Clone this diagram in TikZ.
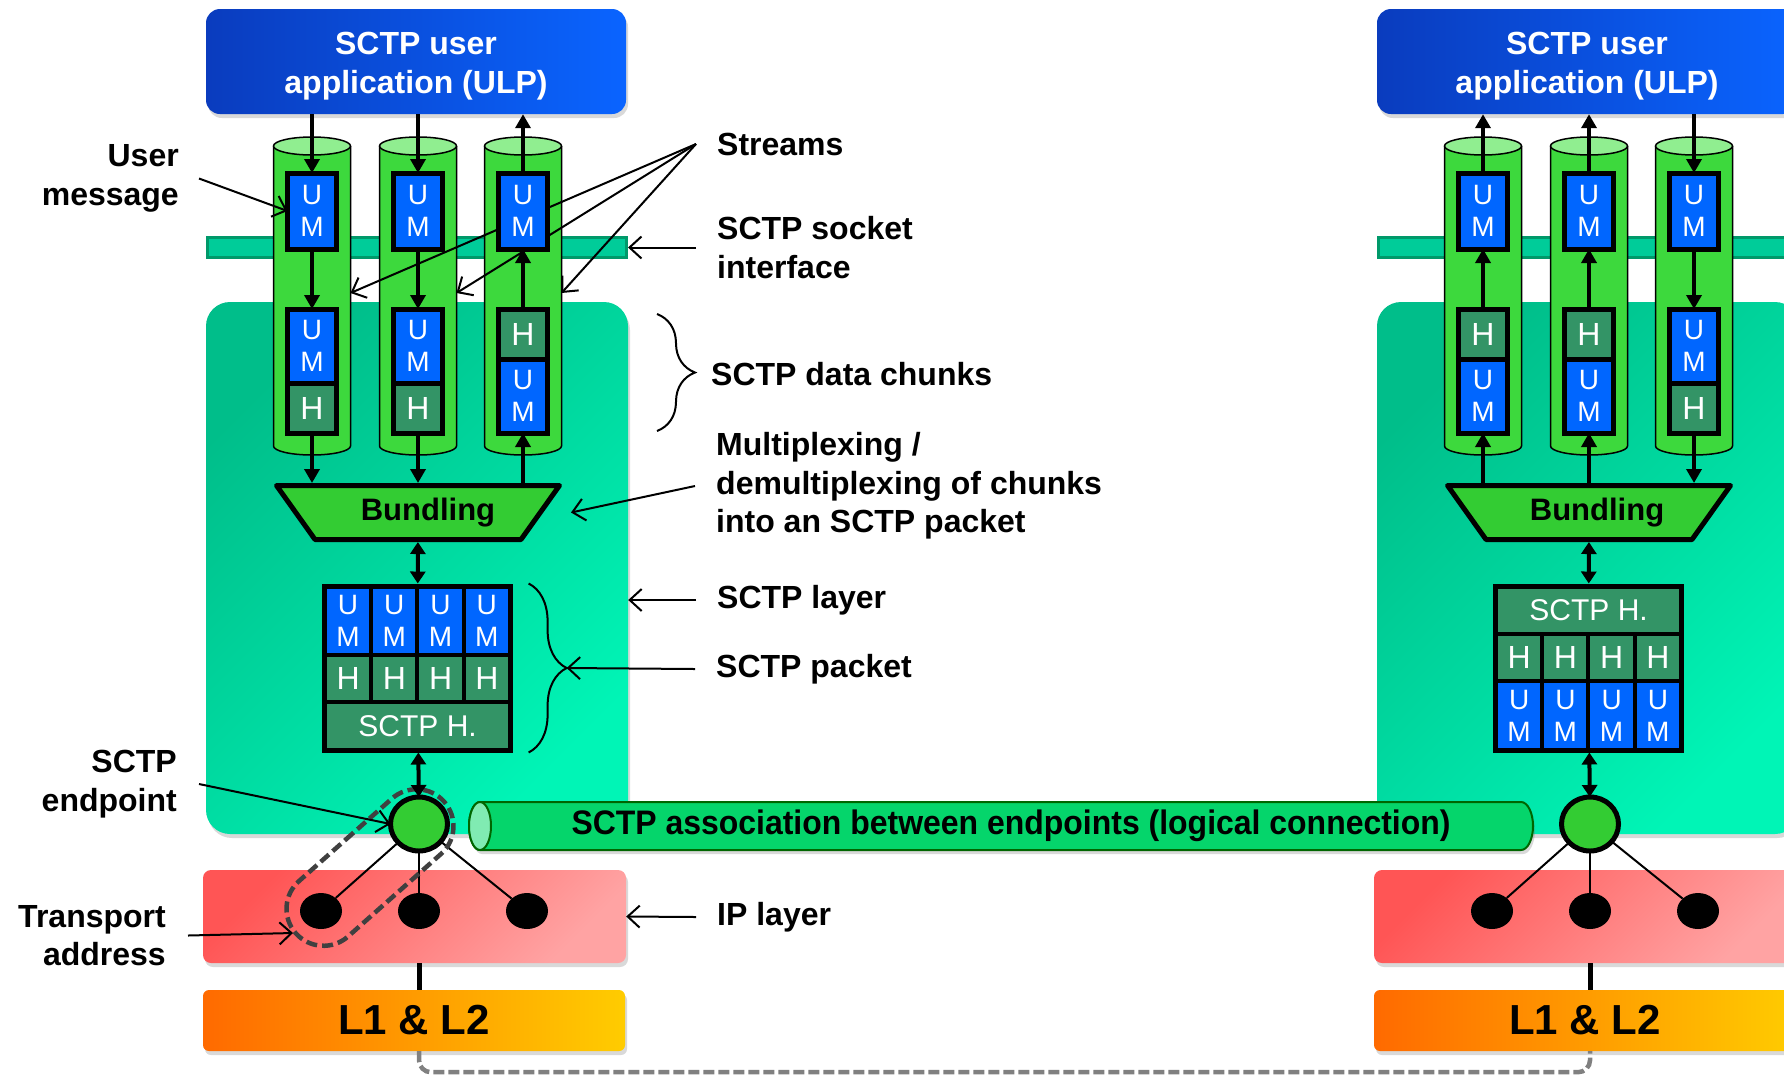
\documentclass[tikz,border=0pt]{standalone}
\usepackage{fontspec}
\setmainfont{Liberation Sans}
\newfontfamily\narrowfont[FakeStretch=0.94]{Liberation Sans}
\usepackage{tikz}
\usetikzlibrary{arrows.meta,positioning,shapes,fit,calc,shadows,decorations.pathreplacing}

\definecolor{ulpblue}{HTML}{0A64FF}
\definecolor{ulpdark}{HTML}{0A3CBE}
\definecolor{umblue}{HTML}{0066FF}
\definecolor{hgreen}{HTML}{339466}
\definecolor{cylgreen}{HTML}{3DD93D}
\definecolor{cyltop}{HTML}{90EE90}
\definecolor{bundgreen}{HTML}{33CC33}
\definecolor{layerdark}{HTML}{00BE8A}
\definecolor{layerlight}{HTML}{00F5B6}
\definecolor{sockfill}{HTML}{00CC99}
\definecolor{sockline}{HTML}{00996A}
\definecolor{ipdark}{HTML}{FF5555}
\definecolor{iplight}{HTML}{FFA3A3}
\definecolor{llorange}{HTML}{FF6A00}
\definecolor{llyellow}{HTML}{FFCC00}
\definecolor{pipegreen}{HTML}{05D56B}
\definecolor{pipecap}{HTML}{80EBB2}

\newcommand{\ulptext}{\raisebox{-5pt}[\height][\depth]{\begin{tabular}{@{}c@{}}SCTP user\\application (ULP)\end{tabular}}}

\tikzset{
  shadowed/.style={drop shadow={shadow xshift=2pt,shadow yshift=-4pt,opacity=0.25,fill=black!60}},
  ulp/.style={shadowed,rounded corners=14pt,left color=ulpdark,right color=ulpblue,text=white,
    font=\bfseries\fontsize{32}{38.5}\selectfont,minimum width=420pt,minimum height=105pt},
  sockbar/.style={fill=sockfill,draw=sockline,line width=3pt,minimum width=419pt,minimum height=20pt},
  layerbox/.style={shadowed,rounded corners=24pt,top color=layerdark,bottom color=layerlight,shading angle=45,
    minimum width=422pt,minimum height=532pt},
  ipbox/.style={shadowed,rounded corners=8pt,top color=ipdark,bottom color=iplight,shading angle=45,
    minimum width=423pt,minimum height=93pt},
  llbox/.style={shadowed,rounded corners=6pt,left color=llorange,right color=llyellow,
    minimum width=422pt,minimum height=61pt,font=\bfseries\fontsize{42}{48}\selectfont},
  um/.style={draw=black,line width=5pt,fill=umblue,text=white,font=\fontsize{28}{32}\selectfont,
    align=center,inner sep=0pt,outer sep=0pt,minimum width=49pt},
  topum/.style={um,minimum height=76pt},
  cum/.style={um,minimum height=74pt},
  ch/.style={um,fill=hgreen,minimum height=50pt,font=\fontsize{32}{36}\selectfont},
  pum/.style={um,line width=4pt,minimum width=46.25pt,minimum height=69pt},
  ph/.style={pum,fill=hgreen,minimum height=47pt,font=\fontsize{32}{36}\selectfont},
  phdr/.style={ph,minimum width=185pt,minimum height=48pt,font=\fontsize{30}{34}\selectfont},
  bundshape/.style={fill=bundgreen,draw=black,line width=5pt,line join=round},
  bund/.style={minimum width=283pt,minimum height=54pt,inner sep=0pt,outer sep=2.5pt,
    font=\bfseries\fontsize{31}{38}\selectfont},
  ep/.style={ellipse,fill=bundgreen,draw=black,line width=5pt,minimum width=57pt,minimum height=54pt,
    inner sep=0pt,outer sep=0pt},
  dot/.style={ellipse,fill=black,minimum width=42pt,minimum height=36pt,inner sep=0pt},
  grp/.style={rounded rectangle,draw=black!75,dash pattern=on 11pt off 5pt,line width=4.5pt,
    minimum width=205pt,minimum height=74pt,rotate=41.6},
  lbl/.style={font=\bfseries\fontsize{32}{38.5}\selectfont,align=left,anchor=west,inner sep=0pt},
  lblr/.style={lbl,align=right,anchor=east},
  ptr/.style={line width=2pt,-{Straight Barb[length=12pt,width=22pt]}},
  flow/.style={line width=3.5pt,-{Triangle[length=14pt,width=15pt]}},
  dbl/.style={line width=4pt,{Triangle[length=12pt,width=15pt]}-{Triangle[length=12pt,width=15pt]}},
  wire/.style={line width=2pt},
  curly/.style={line width=2pt,decorate,decoration={brace,amplitude=38pt}},
  botdash/.style={draw=black!50,line width=4.5pt,dash pattern=on 11pt off 4pt,rounded corners=12pt}
}

\begin{document}
\begin{tikzpicture}[x=1pt,y=1pt]
  \useasboundingbox (0,0) rectangle (1784,-1077);

  % layers of both hosts
  \node[ulp] (ulpL) at (416,-61.5) {\ulptext};
  \node[ulp] (ulpR) at (1587,-61.5) {\ulptext};
  \node[sockbar] (sockL) at (417,-247.5) {};
  \node[sockbar] (sockR) at (1588,-247.5) {};
  \node[layerbox] (layerL) at (417,-568) {};
  \node[layerbox] (layerR) at (1588,-568) {};
  \node[ipbox] (ipL) at (414.5,-916.5) {};
  \node[ipbox] (ipR) at (1585.5,-916.5) {};
  \node[llbox] (llL) at (414,-1020.5) {L1 \& L2};
  \node[llbox] (llR) at (1585,-1020.5) {L1 \& L2};

  % streams
  \foreach \c [count=\n] in {312,418,523,1483,1589,1694} {
    \fill[cylgreen] ({\c-38.5},-146) -- ({\c-38.5},-446)
      arc[start angle=180,end angle=360,x radius=38.5pt,y radius=9pt] -- ({\c+38.5},-146) -- cycle;
    \draw[line width=1.5pt] ({\c-38.5},-146) -- ({\c-38.5},-446)
      arc[start angle=180,end angle=360,x radius=38.5pt,y radius=9pt] -- ({\c+38.5},-146);
    \draw[line width=1.5pt,fill=cyltop] (\c,-146) ellipse[x radius=38.5pt,y radius=9pt];
    \coordinate (s\n) at ({\c+38.5},-293);
  }

  % labels
  \node[lblr] (umsg) at (179,-178.5) {User\\message};
  \node[lblr] (endp) at (177,-784) {SCTP\\endpoint};
  \node[lblr] (taddr) at (166,-935.5) {Transport\\address};
  \node[lbl] (streams) at (717,-144) {Streams};
  \node[lbl] (sock) at (717,-247.5) {SCTP socket\\interface};
  \node[lbl] (chunks) at (711,-374) {SCTP data chunks};
  \node[lbl] (mux) at (716,-486) {Multiplexing /\\demultiplexing of chunks\\into an SCTP packet};
  \node[lbl] (layer) at (717,-600) {SCTP layer};
  \node[lbl] (packet) at (716,-669) {SCTP packet};
  \node[lbl] (ip) at (717,-917) {IP layer};
  \coordinate (taL) at (293,-933);

  \foreach \s in {s1,s2,s3}
    \draw[ptr] ([xshift=-21pt]streams.west) -- (\s);

  % user messages and data chunks
  \node[topum] (tL1) at (312,-211) {U\\M};
  \node[topum] (tL2) at (418,-211) {U\\M};
  \node[topum] (tL3) at (523,-211) {U\\M};
  \node[cum] (kL1a) at (312,-346) {U\\M};
  \node[ch, below=0pt of kL1a] (kL1b) {H};
  \node[cum] (kL2a) at (418,-346) {U\\M};
  \node[ch, below=0pt of kL2a] (kL2b) {H};
  \node[ch] (kL3a) at (523,-334) {H};
  \node[cum, below=0pt of kL3a] (kL3b) {U\\M};

  \node[topum] (tR1) at (1483,-211) {U\\M};
  \node[topum] (tR2) at (1589,-211) {U\\M};
  \node[topum] (tR3) at (1694,-211) {U\\M};
  \node[ch] (kR1a) at (1483,-334) {H};
  \node[cum, below=0pt of kR1a] (kR1b) {U\\M};
  \node[ch] (kR2a) at (1589,-334) {H};
  \node[cum, below=0pt of kR2a] (kR2b) {U\\M};
  \node[cum] (kR3a) at (1694,-346) {U\\M};
  \node[ch, below=0pt of kR3a] (kR3b) {H};

  % bundling
  \draw[bundshape] (276.5,-485.5) -- (559.5,-485.5) -- (521,-539.5) -- (315,-539.5) -- cycle;
  \draw[bundshape] (1447.5,-485.5) -- (1730.5,-485.5) -- (1692,-539.5) -- (1486,-539.5) -- cycle;
  \node[bund] (bundL) at (418,-512.5) {\hspace*{20pt}Bundling};
  \node[bund] (bundR) at (1589,-512.5) {\hspace*{16pt}Bundling};

  % SCTP packets
  \foreach \i in {0,...,3} {
    \node[pum] (pL-u\i) at ({348.1+46.25*\i},-620.5) {U\\M};
    \node[ph] (pL-h\i) at ({348.1+46.25*\i},-678.5) {H};
    \node[ph] (pR-h\i) at ({1519.1+46.25*\i},-657.5) {H};
    \node[pum] (pR-u\i) at ({1519.1+46.25*\i},-715.5) {U\\M};
  }
  \node[phdr] (pL-s) at (417.6,-726) {SCTP H.};
  \node[phdr] (pR-s) at (1588.6,-610) {SCTP H.};
  \node[fit=(pL-u0)(pL-s)(pL-u3),inner sep=0pt,draw,line width=5pt] (pktL) {};
  \node[fit=(pR-s)(pR-u0)(pR-u3),inner sep=0pt,draw,line width=5pt] (pktR) {};

  % association
  \draw[shadowed,line width=2pt,draw=black!60!green,fill=pipegreen] (480,-802) -- (1521,-802)
    arc[start angle=90,end angle=-90,x radius=12pt,y radius=24pt] -- (480,-850)
    arc[start angle=270,end angle=90,x radius=11pt,y radius=24pt] -- cycle;
  \draw[line width=2pt,draw=black!60!green,fill=pipecap] (480,-826) ellipse[x radius=11pt,y radius=24pt];
  \node[font=\narrowfont\bfseries\fontsize{34}{40}\selectfont] (assoc) at (1011,-826)
    {SCTP association between endpoints (logical connection)};

  % endpoints and transport addresses
  \node[ep] (epL) at (419,-824) {};
  \node[ep] (epR) at (1590,-824) {};
  \node[dot] (dL1) at (321,-911) {};
  \node[dot] (dL2) at (419,-911) {};
  \node[dot] (dL3) at (527,-911) {};
  \node[dot] (dR1) at (1492,-911) {};
  \node[dot] (dR2) at (1590,-911) {};
  \node[dot] (dR3) at (1698,-911) {};
  \foreach \d in {dL1,dL2,dL3} \draw[wire] (epL) -- (\d);
  \foreach \d in {dR1,dR2,dR3} \draw[wire] (epR) -- (\d);
  \node[grp] (gL) at ($(dL1)!0.5!(epL)$) {};

  \draw[line width=5pt] (ipL.south -| dL2) -- (llL.north -| dL2);
  \draw[line width=5pt] (ipR.south -| dR2) -- (llR.north -| dR2);
  \draw[botdash] (llL.south -| dL2) |- ([yshift=-21pt]llR.south -| dR2) -- (llR.south -| dR2);

  % data flow
  \draw[flow] (tL1 |- ulpL.south) -- (tL1);
  \draw[flow] (tL1) -- (kL1a);
  \draw[flow] (kL1b) -- (kL1b |- bundL.north);
  \draw[flow] (tL2 |- ulpL.south) -- (tL2);
  \draw[flow] (tL2) -- (kL2a);
  \draw[flow] (kL2b) -- (kL2b |- bundL.north);
  \draw[flow] (kL3b |- bundL.north) -- (kL3b);
  \draw[flow] (kL3a) -- (tL3);
  \draw[flow] (tL3) -- (tL3 |- ulpL.south);

  \draw[flow] (kR1b |- bundR.north) -- (kR1b);
  \draw[flow] (kR1a) -- (tR1);
  \draw[flow] (tR1) -- (tR1 |- ulpR.south);
  \draw[flow] (kR2b |- bundR.north) -- (kR2b);
  \draw[flow] (kR2a) -- (tR2);
  \draw[flow] (tR2) -- (tR2 |- ulpR.south);
  \draw[flow] (tR3 |- ulpR.south) -- (tR3);
  \draw[flow] (tR3) -- (kR3a);
  \draw[flow] (kR3b) -- (kR3b |- bundR.north);

  \draw[dbl] (bundL) -- (pktL);
  \draw[dbl] (pktL) -- (epL);
  \draw[dbl] (bundR) -- (pktR);
  \draw[dbl] (pktR) -- (epR);

  % pointers
  \draw[ptr] ([xshift=20pt]umsg.east) -- (tL1.west);
  \draw[ptr] ([xshift=-21pt]sock.west) -- (sockL.east);
  \draw[curly] (657,-314) -- (657,-431);
  \draw[ptr] ([xshift=-21pt]mux.west) -- ([xshift=9pt]bundL.east);
  \draw[ptr] ([xshift=-21pt]layer.west) -- (layer.west -| layerL.east);
  \draw[curly] ([xshift=16pt]pktL.north east) -- ([xshift=16pt]pktL.south east);
  \draw[ptr] ([xshift=-21pt]packet.west) -- ([xshift=54pt]pktL.east);
  \draw[ptr] ([xshift=22pt]endp.east) -- (epL.west);
  \draw[ptr] ([xshift=22pt]taddr.east) -- (taL);
  \draw[ptr] ([xshift=-21pt]ip.west) -- (ipL.east);
\end{tikzpicture}
\end{document}
